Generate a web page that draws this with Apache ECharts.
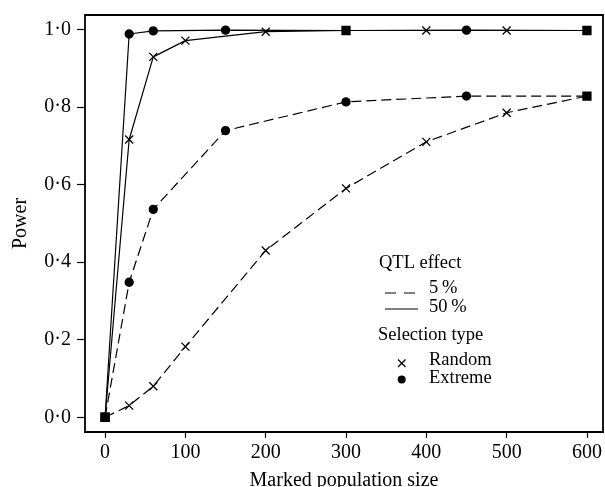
<!DOCTYPE html>
<html>
<head>
<meta charset="utf-8">
<script src="https://cdn.jsdelivr.net/npm/echarts@6/dist/echarts.min.js"></script>
<style>
  html, body { margin: 0; padding: 0; background: #fff; }
  #chart { width: 605px; height: 487px; }
</style>
</head>
<body>
<div id="chart"></div>
<script>
// marked population sizes
var sizeRandom = [0, 30, 60, 100, 200, 300, 400, 500, 600];
var sizeExtreme = [0, 30, 60, 150, 300, 450, 600];

// power
var power5Random = [0, 0.03, 0.08, 0.182, 0.43, 0.59, 0.71, 0.785, 0.828];
var power5Extreme = [0, 0.348, 0.536, 0.739, 0.813, 0.828, 0.828];
var power50Random = [0, 0.716, 0.929, 0.971, 0.994, 0.997, 0.997, 0.997, 0.997];
var power50Extreme = [0, 0.988, 0.996, 0.998, 0.997, 0.998, 0.997];

var xTicks = [0, 100, 200, 300, 400, 500, 600];
var yTicks = [0, 0.2, 0.4, 0.6, 0.8, 1.0];

var FONT = '"Liberation Serif", "DejaVu Serif", serif';
var CROSS = 'path://M0,0L10,10M10,0L0,10';

// where a random point and an extreme point coincide the figure shows a square
function sameAt(xs, ys, x, y) {
  for (var i = 0; i < xs.length; i++) {
    if (xs[i] === x && Math.abs(ys[i] - y) < 0.01) return true;
  }
  return false;
}

function randomData(xs, ys, oxs, oys) {
  return xs.map(function (x, i) {
    var d = { value: [x, ys[i]] };
    if (sameAt(oxs, oys, x, ys[i])) d.symbol = 'none';
    return d;
  });
}

function extremeData(xs, ys, oxs, oys) {
  return xs.map(function (x, i) {
    var d = { value: [x, ys[i]] };
    if (sameAt(oxs, oys, x, ys[i])) { d.symbol = 'rect'; d.symbolSize = 8; }
    return d;
  });
}

function lineSeries(data, dashed, symbol, size) {
  return {
    type: 'line',
    data: data,
    symbol: symbol,
    symbolSize: size,
    showAllSymbol: true,
    animation: false,
    lineStyle: { color: '#000', width: 1.2, type: dashed ? [10, 5] : 'solid' },
    itemStyle: { color: '#000', borderColor: '#000', borderWidth: 1.3 },
    emphasis: { disabled: true }
  };
}

var chart = echarts.init(document.getElementById('chart'));

var legendText = function (x, y, text) {
  return {
    type: 'text', left: x, top: y - 11,
    style: { text: text, font: '18.5px ' + FONT, fill: '#000' }
  };
};

var option = {
  backgroundColor: '#fff',
  grid: {
    left: 85, right: 2, top: 15, bottom: 55,
    containLabel: false, outerBoundsMode: 'none',
    show: true, borderColor: '#000', borderWidth: 1.8
  },
  xAxis: {
    type: 'value', min: -25, max: 620,
    name: 'Marked population size', nameLocation: 'middle', nameGap: 39,
    nameTextStyle: { fontFamily: FONT, fontSize: 20, color: '#000' },
    axisLine: { show: false, onZero: false },
    splitLine: { show: false },
    axisTick: { show: true, length: 6, customValues: xTicks, lineStyle: { color: '#000', width: 1.2 } },
    axisLabel: { customValues: xTicks, margin: 11, fontFamily: FONT, fontSize: 20, color: '#000' }
  },
  yAxis: {
    type: 'value', min: -0.038, max: 1.037,
    name: 'Power', nameLocation: 'middle', nameGap: 54,
    nameTextStyle: { fontFamily: FONT, fontSize: 20, color: '#000' },
    axisLine: { show: false, onZero: false },
    splitLine: { show: false },
    axisTick: { show: true, length: 8, customValues: yTicks, lineStyle: { color: '#000', width: 1.2 } },
    axisLabel: {
      customValues: yTicks, margin: 14, fontFamily: FONT, fontSize: 20, color: '#000',
      formatter: function (v) { return v.toFixed(1).replace('.', '·'); }
    }
  },
  series: [
    lineSeries(randomData(sizeRandom, power5Random, sizeExtreme, power5Extreme), true, CROSS, 8),
    lineSeries(extremeData(sizeExtreme, power5Extreme, sizeRandom, power5Random), true, 'circle', 8),
    lineSeries(randomData(sizeRandom, power50Random, sizeExtreme, power50Extreme), false, CROSS, 8),
    lineSeries(extremeData(sizeExtreme, power50Extreme, sizeRandom, power50Random), false, 'circle', 8)
  ],
  graphic: [
    legendText(379, 265, 'QTL effect'),
    { type: 'line', shape: { x1: 385, y1: 293, x2: 416, y2: 293 }, style: { stroke: '#000', lineWidth: 1.2, lineDash: [11, 8] } },
    legendText(429, 290, '5\u2009%'),
    { type: 'line', shape: { x1: 385, y1: 309, x2: 418, y2: 309 }, style: { stroke: '#000', lineWidth: 1.2 } },
    legendText(429, 309, '50\u2009%'),
    legendText(378, 337, 'Selection type'),
    { type: 'line', shape: { x1: 398, y1: 359.5, x2: 405.5, y2: 367 }, style: { stroke: '#000', lineWidth: 1.3 } },
    { type: 'line', shape: { x1: 405.5, y1: 359.5, x2: 398, y2: 367 }, style: { stroke: '#000', lineWidth: 1.3 } },
    legendText(429, 362, 'Random'),
    { type: 'circle', shape: { cx: 401.7, cy: 379.5, r: 4 }, style: { fill: '#000' } },
    legendText(429, 380, 'Extreme')
  ]
};

chart.setOption(option);
window.onresize = chart.resize;
</script>
</body>
</html>
